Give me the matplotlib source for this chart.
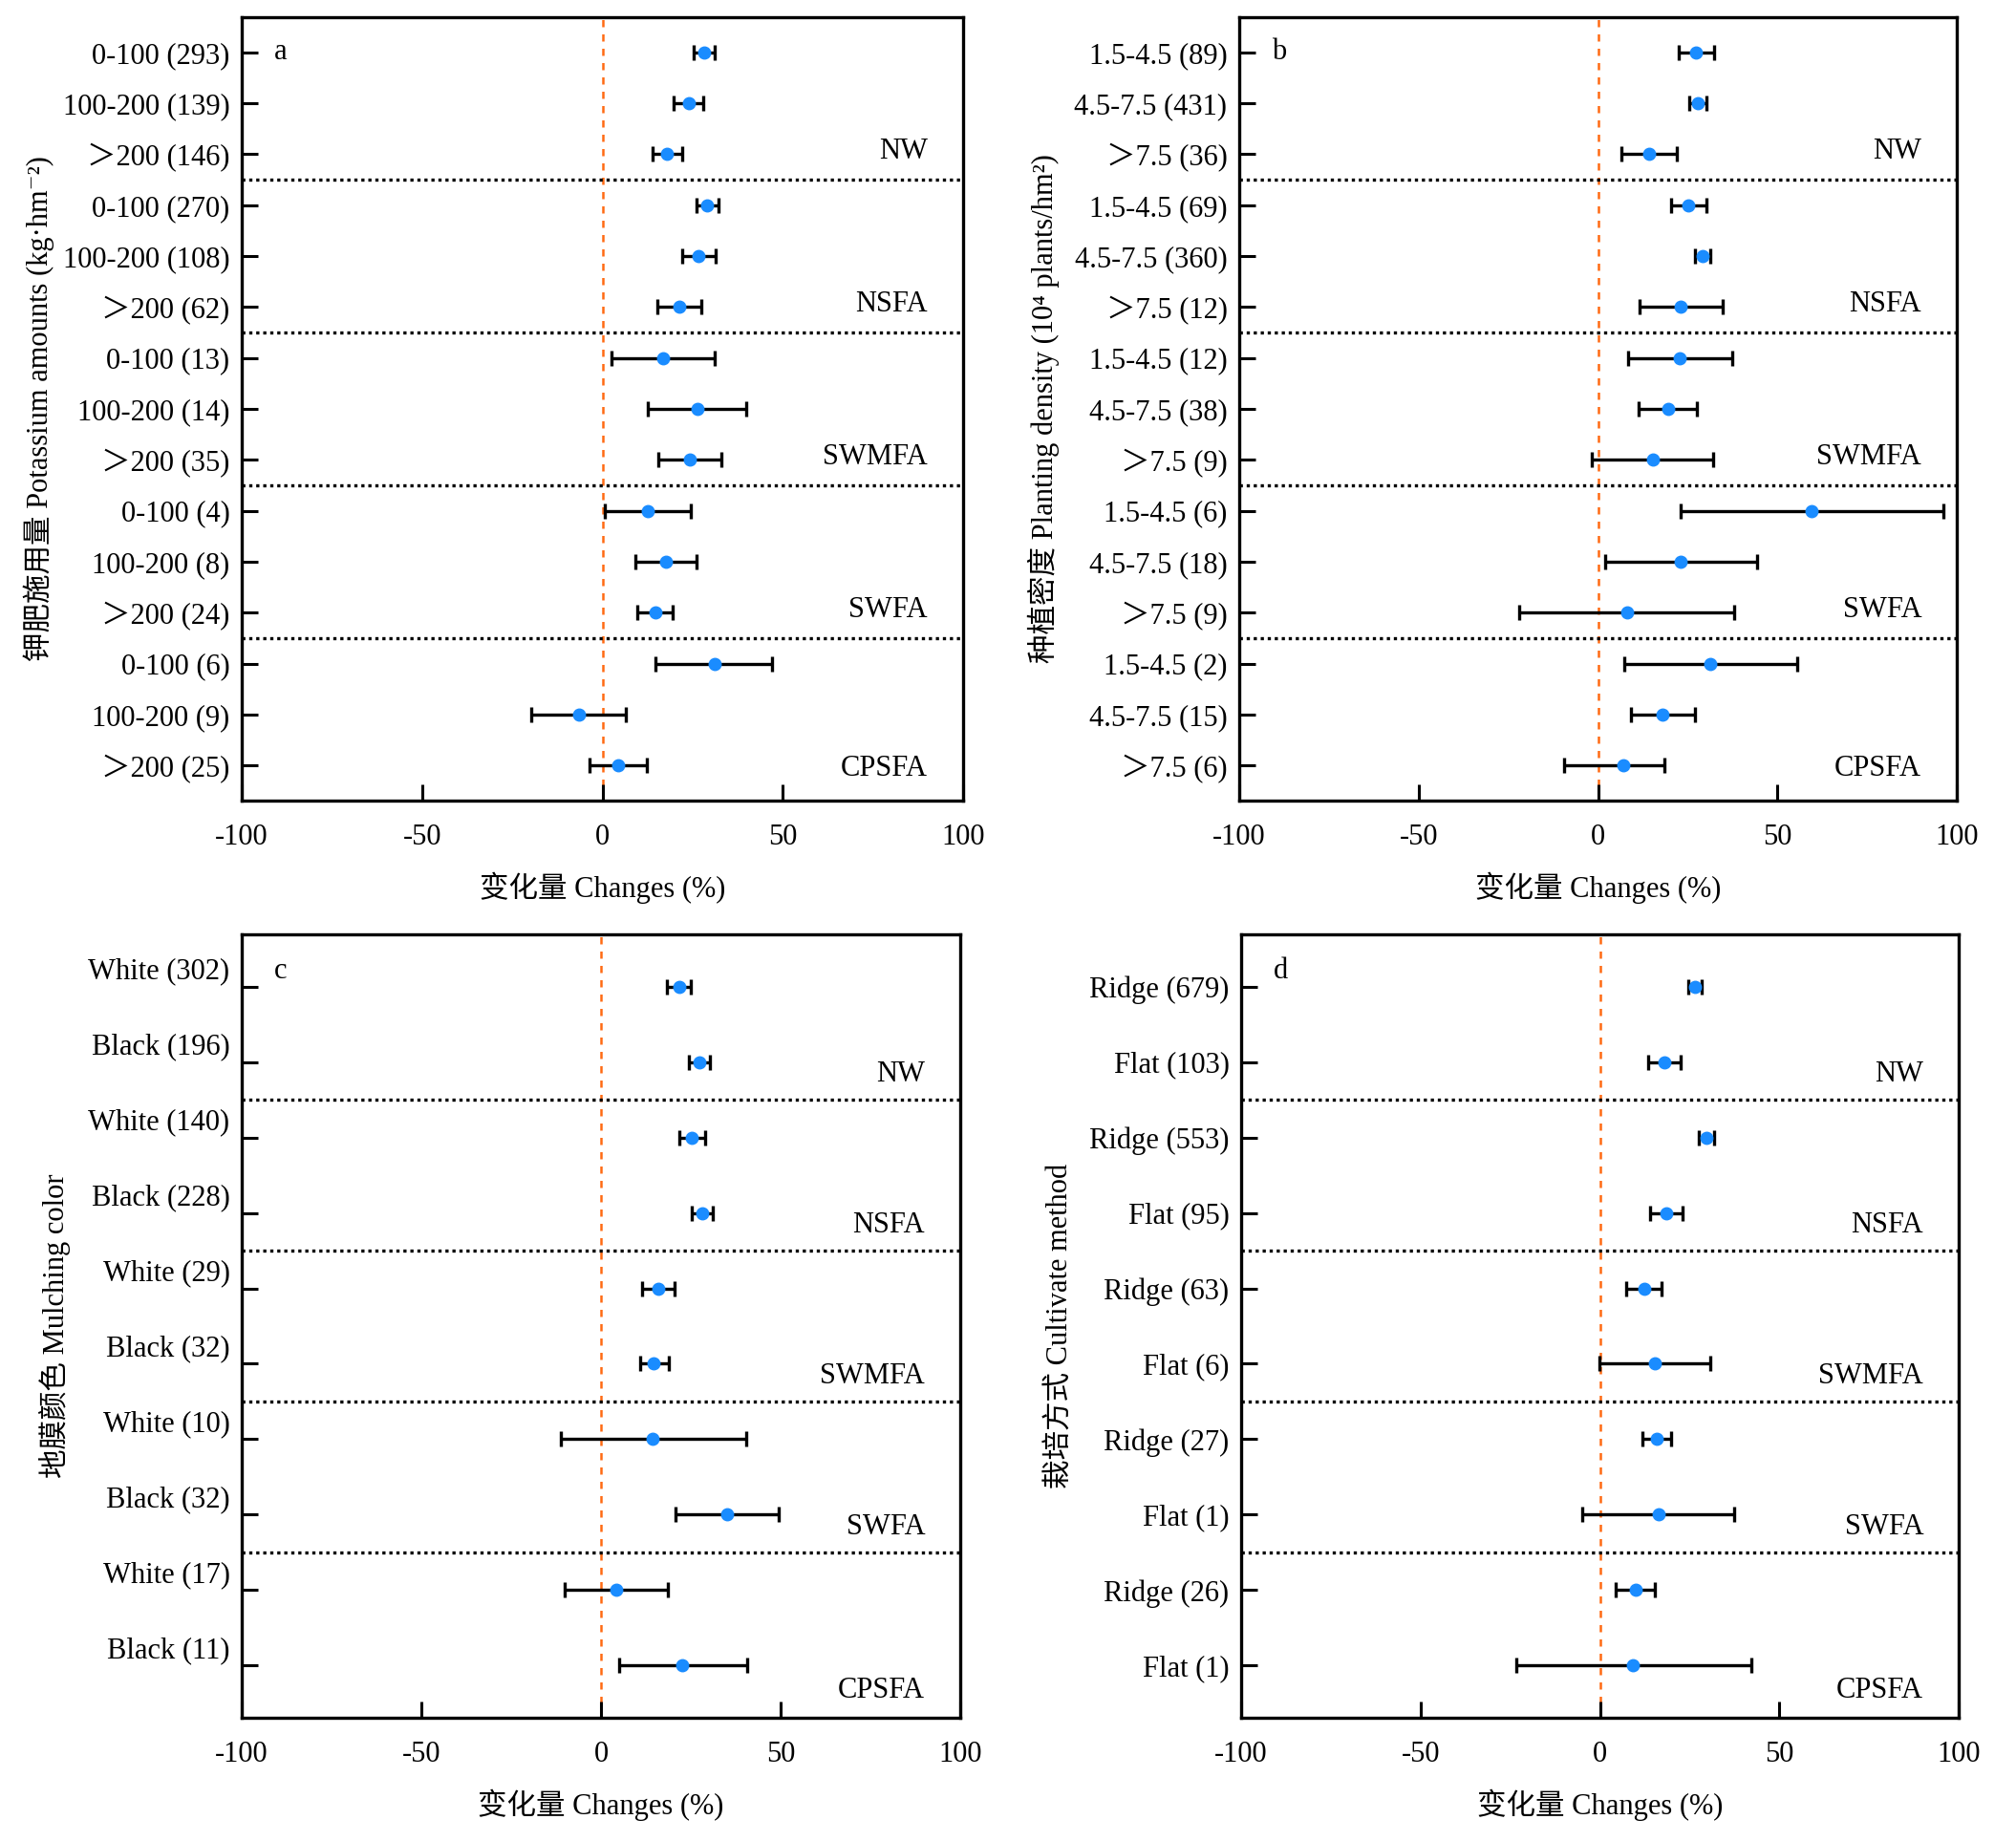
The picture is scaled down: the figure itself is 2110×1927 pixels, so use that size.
import matplotlib
matplotlib.use("Agg")
import matplotlib.pyplot as plt
import numpy as np
from matplotlib.transforms import ScaledTranslation, blended_transform_factory

plt.rcParams['font.family'] = ['Liberation Serif', 'Noto Sans CJK SC', 'DejaVu Serif']
plt.rcParams['axes.unicode_minus'] = False

regions = ['NW', 'NSFA', 'SWMFA', 'SWFA', 'CPSFA']

# a: potassium amounts
k_labels = ['0-100 (293)', '100-200 (139)', '＞200 (146)',
            '0-100 (270)', '100-200 (108)', '＞200 (62)',
            '0-100 (13)', '100-200 (14)', '＞200 (35)',
            '0-100 (4)', '100-200 (8)', '＞200 (24)',
            '0-100 (6)', '100-200 (9)', '＞200 (25)']
k_mean = [28.2, 23.9, 17.8, 29.1, 26.5, 21.3, 16.8, 26.3, 24.2, 12.5, 17.6, 14.7, 31.0, -6.6, 4.3]
k_low = [25.3, 19.7, 14.0, 26.1, 22.0, 15.1, 2.6, 12.6, 15.4, 0.7, 9.2, 9.7, 14.7, -19.7, -3.6]
k_high = [31.1, 27.9, 22.0, 32.2, 31.3, 27.5, 31.0, 39.8, 32.9, 24.6, 26.1, 19.6, 47.1, 6.6, 12.3]

# b: planting density
d_labels = ['1.5-4.5 (89)', '4.5-7.5 (431)', '＞7.5 (36)',
            '1.5-4.5 (69)', '4.5-7.5 (360)', '＞7.5 (12)',
            '1.5-4.5 (12)', '4.5-7.5 (38)', '＞7.5 (9)',
            '1.5-4.5 (6)', '4.5-7.5 (18)', '＞7.5 (9)',
            '1.5-4.5 (2)', '4.5-7.5 (15)', '＞7.5 (6)']
d_mean = [27.3, 27.9, 14.3, 25.2, 29.1, 23.0, 22.9, 19.5, 15.2, 59.6, 23.0, 8.0, 31.4, 17.9, 7.1]
d_low = [22.5, 25.5, 6.6, 20.4, 27.1, 11.6, 8.4, 11.3, -1.6, 23.0, 2.1, -22.0, 7.3, 9.1, -9.5]
d_high = [32.3, 30.2, 22.1, 30.2, 31.4, 34.8, 37.3, 27.5, 32.0, 96.3, 44.3, 38.0, 55.5, 27.0, 18.6]

# c: mulching color
m_labels = ['White (302)', 'Black (196)', 'White (140)', 'Black (228)', 'White (29)',
            'Black (32)', 'White (10)', 'Black (32)', 'White (17)', 'Black (11)']
m_mean = [21.7, 27.4, 25.3, 28.3, 16.0, 14.6, 14.4, 35.2, 4.2, 22.7]
m_low = [18.3, 24.6, 21.9, 25.3, 11.5, 10.8, -11.2, 20.8, -10.0, 5.1]
m_high = [25.0, 30.2, 29.0, 31.0, 20.5, 18.9, 40.4, 49.5, 18.6, 40.6]

# d: cultivate method
c_labels = ['Ridge (679)', 'Flat (103)', 'Ridge (553)', 'Flat (95)', 'Ridge (63)',
            'Flat (6)', 'Ridge (27)', 'Flat (1)', 'Ridge (26)', 'Flat (1)']
c_mean = [26.4, 18.0, 29.6, 18.4, 12.3, 15.3, 15.9, 16.4, 10.0, 9.3]
c_low = [24.6, 13.5, 27.6, 13.9, 7.3, -0.2, 11.8, -5.0, 4.5, -23.2]
c_high = [28.3, 22.5, 31.7, 23.0, 17.1, 30.7, 19.8, 37.4, 15.3, 42.1]

W, H = 2110, 1927
fig = plt.figure(figsize=(W / 100, H / 100), dpi=100)

FS = 22


def panel(rect, labels, mean, low, high, letter, ylabel, ylab_x, label_shift=0,
          letter_shift=0, region_off=0.0, last_off=0.0):
    ax = fig.add_axes(rect)
    n = len(labels)
    per = n // len(regions)
    y = np.arange(n)
    mean = np.array(mean)
    err = [mean - np.array(low), np.array(high) - mean]
    ax.axvline(0, color='#FF6A13', ls=(0, (3, 3)), lw=1.8, zorder=1)
    for g in range(1, len(regions)):
        ax.axhline(g * per - 0.5, color='black', ls=(0, (1, 1.2)), lw=2.4, zorder=1)
    ax.errorbar(mean, y, xerr=err, fmt='o', color='#1A8CFF', ms=9, ecolor='black',
                elinewidth=2.4, capsize=6, capthick=2.4, zorder=3)
    ax.set_xlim(-100, 100)
    ax.set_ylim(n - 1 + 0.69, -0.69)
    ax.set_xticks([-100, -50, 0, 50, 100])
    ax.set_xticklabels(['-100', '-50', '0', '50', '100'])
    ax.set_yticks(y)
    ax.set_yticklabels(labels)
    ax.tick_params(axis='both', direction='in', length=12, width=2.2, labelsize=FS)
    ax.tick_params(axis='x', pad=17)
    ax.tick_params(axis='y', pad=9)
    for s in ax.spines.values():
        s.set_linewidth(2.4)
    if label_shift:
        for lab in ax.get_yticklabels():
            lab.set_transform(lab.get_transform() + ScaledTranslation(0, label_shift / 100, fig.dpi_scale_trans))
    ax.set_xlabel('变化量 Changes (%)', fontsize=FS, labelpad=16)
    ax.set_ylabel(ylabel, fontsize=FS)
    ax.yaxis.set_label_coords(ylab_x, 0.5)
    tr = blended_transform_factory(ax.transAxes, ax.transData)
    t = ax.text(0.045, 0, letter, transform=tr, fontsize=FS, va='center', ha='left')
    if letter_shift:
        t.set_transform(tr + ScaledTranslation(0, letter_shift / 100, fig.dpi_scale_trans))
    for i, r in enumerate(regions):
        yy = (i + 1) * per - 1 + region_off
        if i == len(regions) - 1:
            yy += last_off
        ax.text(0.951, yy, r, transform=tr, fontsize=FS, ha='right', va='center')
    return ax


panel([253 / W, 1 - 838 / H, 755 / W, 820 / H], k_labels, k_mean, k_low, k_high, 'a',
      '钾肥施用量 Potassium amounts (kg·hm⁻²)', -0.26,
      region_off=-0.06, last_off=0.12)
panel([1297 / W, 1 - 838 / H, 751 / W, 820 / H], d_labels, d_mean, d_low, d_high, 'b',
      '种植密度 Planting density (10⁴ plants/hm²)', -0.25,
      region_off=-0.06, last_off=0.12)
panel([253 / W, 1 - 1798 / H, 752 / W, 820 / H], m_labels, m_mean, m_low, m_high, 'c',
      '地膜颜色 Mulching color', -0.238, label_shift=19, letter_shift=16,
      region_off=0.16, last_off=0.17)
panel([1299 / W, 1 - 1798 / H, 751 / W, 820 / H], c_labels, c_mean, c_low, c_high, 'd',
      '栽培方式 Cultivate method', -0.232, letter_shift=16,
      region_off=0.16, last_off=0.17)

fig.savefig('out.png', dpi=100)
